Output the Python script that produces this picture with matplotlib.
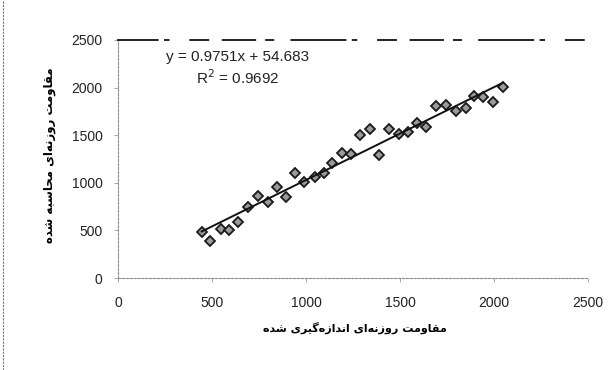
import numpy as np
import matplotlib
matplotlib.use("Agg")
import matplotlib.pyplot as plt
from matplotlib.lines import Line2D

measured = [445, 489, 546, 592, 640, 693, 743, 800, 844, 894,
            941, 989, 1048, 1097, 1140, 1193, 1239, 1287, 1340, 1390,
            1443, 1496, 1544, 1592, 1638, 1691, 1745, 1798, 1851, 1894,
            1943, 1996, 2046]
computed = [486, 392, 511, 504, 591, 749, 861, 801, 953, 854,
            1106, 1012, 1064, 1106, 1205, 1310, 1299, 1502, 1562, 1292,
            1562, 1513, 1537, 1631, 1589, 1807, 1817, 1757, 1782, 1912,
            1905, 1852, 2003]

slope = 0.9751
intercept = 54.683
r2 = 0.9692

xticks = [0, 500, 1000, 1500, 2000, 2500]
yticks = [0, 500, 1000, 1500, 2000, 2500]

xlabel = "مقاومت روزنه‌ای اندازه‌گیری شده"
ylabel = "مقاومت روزنه‌ای محاسبه شده"

# matplotlib does no arabic shaping, so do it by hand (isolated, final, initial, medial)
FORMS = {
    "ا": ("\uFE8D", "\uFE8E", None, None),
    "ب": ("\uFE8F", "\uFE90", "\uFE91", "\uFE92"),
    "ت": ("\uFE95", "\uFE96", "\uFE97", "\uFE98"),
    "ح": ("\uFEA1", "\uFEA2", "\uFEA3", "\uFEA4"),
    "د": ("\uFEA9", "\uFEAA", None, None),
    "ر": ("\uFEAD", "\uFEAE", None, None),
    "ز": ("\uFEAF", "\uFEB0", None, None),
    "س": ("\uFEB1", "\uFEB2", "\uFEB3", "\uFEB4"),
    "ش": ("\uFEB5", "\uFEB6", "\uFEB7", "\uFEB8"),
    "ق": ("\uFED5", "\uFED6", "\uFED7", "\uFED8"),
    "م": ("\uFEE1", "\uFEE2", "\uFEE3", "\uFEE4"),
    "ن": ("\uFEE5", "\uFEE6", "\uFEE7", "\uFEE8"),
    "ه": ("\uFEE9", "\uFEEA", "\uFEEB", "\uFEEC"),
    "و": ("\uFEED", "\uFEEE", None, None),
    "ی": ("\uFBFC", "\uFBFD", "\uFBFE", "\uFBFF"),
    "گ": ("\uFB92", "\uFB93", "\uFB94", "\uFB95"),
}


def shape(s):
    out = []
    for i, ch in enumerate(s):
        if ch not in FORMS:
            if ch != "\u200c":
                out.append(ch)
            continue
        prev = s[i - 1] if i > 0 else ""
        nxt = s[i + 1] if i + 1 < len(s) else ""
        join_prev = prev in FORMS and FORMS[prev][2] is not None
        join_next = nxt in FORMS and FORMS[ch][2] is not None
        iso, fin, ini, med = FORMS[ch]
        if join_prev and join_next:
            out.append(med)
        elif join_prev:
            out.append(fin)
        elif join_next:
            out.append(ini)
        else:
            out.append(iso)
    return "".join(out[::-1])


plt.rcParams['font.family'] = ['Liberation Sans', 'DejaVu Sans']

fig = plt.figure(figsize=(6.16, 3.70), dpi=100)
ax = fig.add_axes([0.1916, 0.2486, 0.7629, 0.6433])

ax.plot(measured, computed, linestyle='none', marker='D', ms=4.8,
        mfc='#9a9a9a', mec='#1a1a1a', mew=1.3)

xs = np.array([min(measured), max(measured)])
ax.plot(xs, slope * xs + intercept, color='#111111', lw=1.4)

ax.set_xlim(0, 2500)
ax.set_ylim(0, 2500)
ax.set_xticks(xticks)
ax.set_yticks(yticks)
ax.tick_params(axis='both', labelsize=10, colors='#222222', length=3,
               width=0.6, direction='out')
ax.tick_params(axis='x', pad=10, color='#999999')
ax.tick_params(axis='y', pad=8, color='#999999')

for side in ['left', 'bottom']:
    ax.spines[side].set_color('#8c8c8c')
    ax.spines[side].set_linewidth(0.8)
    ax.spines[side].set_linestyle((0, (2, 1.5)))
ax.spines['right'].set_visible(False)
ax.spines['top'].set_color('#111111')
ax.spines['top'].set_linewidth(1.3)
ax.spines['top'].set_linestyle((8, (30, 4, 2, 12, 10, 8, 18, 6, 4, 10)))

ax.text(0.255, 0.93, f"y = {slope}x + {intercept}", transform=ax.transAxes,
        ha='center', va='center', fontsize=11, color='#222222')
ax.text(0.255, 0.843, f"R$^2$ = {r2}", transform=ax.transAxes,
        ha='center', va='center', fontsize=11, color='#222222')

fig.text(355 / 616, 1 - 328 / 370, shape(xlabel), ha='center', va='center',
         fontsize=8, fontweight='bold', family=['DejaVu Sans'])
fig.text(50 / 616, 1 - 155 / 370, shape(ylabel), ha='center', va='center',
         rotation=90, fontsize=8.5, fontweight='bold', family=['DejaVu Sans'])

fig.add_artist(Line2D([3 / 616, 3 / 616], [0, 1], color='#777777', lw=0.8,
                      linestyle=(0, (2, 1))))

fig.savefig("out.png", dpi=100)
